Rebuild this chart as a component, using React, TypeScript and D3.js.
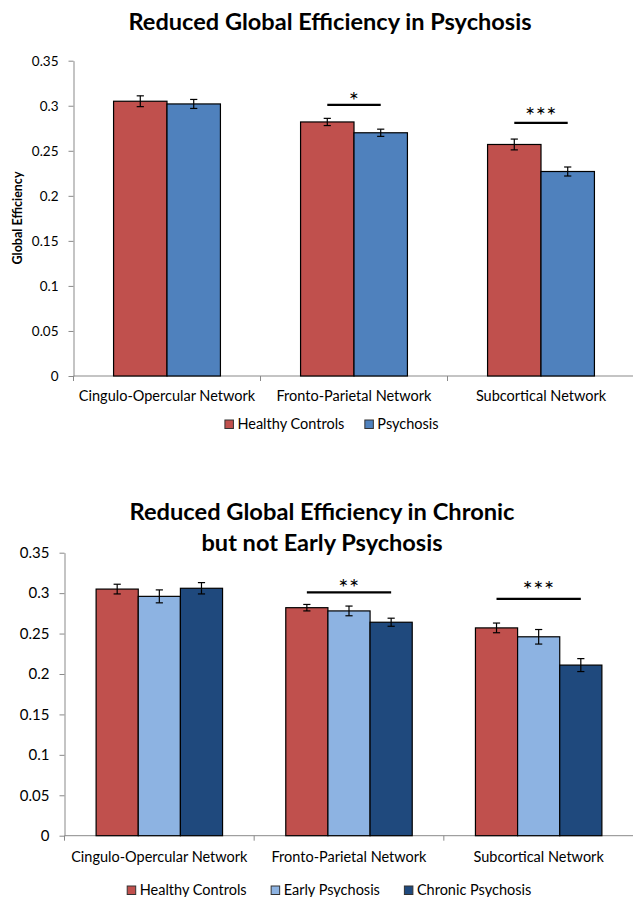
import { useRef, useEffect } from "react";
import * as d3 from "d3";

// categories and tick labels
const categories = ["Cingulo-Opercular Network", "Fronto-Parietal Network", "Subcortical Network"];
const yTicks = [0, 0.05, 0.1, 0.15, 0.2, 0.25, 0.3, 0.35];
const yTickLabels = ["0", "0.05", "0.1", "0.15", "0.2", "0.25", "0.3", "0.35"];

// chart 1: HC vs psychosis
const hcTop = [0.305, 0.282, 0.257];
const hcTopErr = [0.006, 0.004, 0.006];
const psyTop = [0.302, 0.27, 0.227];
const psyTopErr = [0.005, 0.004, 0.005];
const starsTop = ["", "*", "***"];
const sigLineTop = [0, 0.301, 0.281];
const starLevelTop = [0, 0.3103, 0.2937];

// chart 2: HC vs early vs chronic
const hcBot = [0.305, 0.282, 0.257];
const hcBotErr = [0.006, 0.004, 0.006];
const earlyBot = [0.296, 0.278, 0.246];
const earlyBotErr = [0.008, 0.006, 0.009];
const chronicBot = [0.306, 0.264, 0.211];
const chronicBotErr = [0.007, 0.005, 0.008];
const starsBot = ["", "**", "***"];
const sigLineBot = [0, 0.301, 0.293];
const starLevelBot = [0, 0.313, 0.31];

const FONT = "Lato, 'Open Sans', sans-serif";
const AXIS = "#898989";

function drawChart(svg, cfg) {
  const g = svg.append("g");
  const x = d3.scaleBand().domain(categories).range([cfg.x0, cfg.x1]);
  const bw = x.bandwidth();
  const n = cfg.series.length;
  const gap = (bw * 1.5) / (n + 1.5);
  const xs = d3
    .scaleBand()
    .domain(cfg.series.map((s) => s.name))
    .range([gap / 2, bw - gap / 2]);
  const y = d3.scaleLinear().domain([0, 0.35]).range([cfg.y0, cfg.y1]);

  // title
  cfg.title.forEach((t, i) => {
    g.append("text")
      .attr("x", cfg.titleX)
      .attr("y", cfg.titleY[i])
      .attr("text-anchor", "middle")
      .attr("font-family", FONT)
      .attr("font-weight", "bold")
      .attr("font-size", 22)
      .attr("textLength", cfg.titleLen[i])
      .attr("lengthAdjust", "spacingAndGlyphs")
      .text(t);
  });

  // y axis
  const yAxis = d3
    .axisLeft(y)
    .tickValues(yTicks)
    .tickFormat((d, i) => yTickLabels[i])
    .tickSize(5)
    .tickSizeOuter(0)
    .tickPadding(cfg.tickPad);
  const ya = g.append("g").attr("transform", `translate(${cfg.x0},0)`).call(yAxis);
  ya.select(".domain").attr("stroke", AXIS);
  ya.selectAll(".tick line").attr("stroke", AXIS);
  ya.selectAll(".tick text")
    .attr("font-family", FONT)
    .attr("font-size", cfg.tickFont)
    .attr("fill", "#000");

  // x axis line + boundary ticks
  g.append("line")
    .attr("x1", cfg.x0)
    .attr("x2", cfg.x1)
    .attr("y1", cfg.y0)
    .attr("y2", cfg.y0)
    .attr("stroke", AXIS);
  const bounds = categories.map((c) => x(c)).concat([cfg.x1]);
  g.selectAll(".xt")
    .data(bounds)
    .join("line")
    .attr("x1", (d) => d)
    .attr("x2", (d) => d)
    .attr("y1", cfg.y0)
    .attr("y2", cfg.y0 + 5)
    .attr("stroke", AXIS);
  g.selectAll(".xl")
    .data(categories)
    .join("text")
    .attr("x", (d) => x(d) + bw / 2)
    .attr("y", cfg.catY)
    .attr("text-anchor", "middle")
    .attr("font-family", FONT)
    .attr("font-size", cfg.catFont)
    .text((d) => d);

  // bars
  cfg.series.forEach((s) => {
    const rows = categories.map((c, i) => ({ c, v: s.values[i], e: s.err[i] }));
    g.append("g")
      .selectAll("rect")
      .data(rows)
      .join("rect")
      .attr("x", (d) => x(d.c) + xs(s.name))
      .attr("y", (d) => y(d.v))
      .attr("width", xs.bandwidth())
      .attr("height", (d) => cfg.y0 - y(d.v))
      .attr("fill", s.color)
      .attr("stroke", "#000")
      .attr("stroke-width", 1.2);

    const eb = g.append("g").attr("stroke", "#000").attr("stroke-width", 1.2);
    rows.forEach((d) => {
      const cx = x(d.c) + xs(s.name) + xs.bandwidth() / 2;
      eb.append("line").attr("x1", cx).attr("x2", cx).attr("y1", y(d.v + d.e)).attr("y2", y(d.v - d.e));
      [d.v + d.e, d.v - d.e].forEach((v) => {
        eb.append("line").attr("x1", cx - 3.6).attr("x2", cx + 3.6).attr("y1", y(v)).attr("y2", y(v));
      });
    });
  });

  // significance markers
  categories.forEach((c, i) => {
    if (!cfg.stars[i]) return;
    const cx = x(c) + bw / 2;
    const half = (xs.bandwidth() * cfg.sigSpan) / 2;
    g.append("line")
      .attr("x1", cx - half)
      .attr("x2", cx + half)
      .attr("y1", y(cfg.sigLine[i]))
      .attr("y2", y(cfg.sigLine[i]))
      .attr("stroke", "#000")
      .attr("stroke-width", 2.2);
    g.append("text")
      .attr("x", cx)
      .attr("y", y(cfg.starLevel[i]) + 13)
      .attr("text-anchor", "middle")
      .attr("font-family", FONT)
      .attr("font-size", 24)
      .attr("letter-spacing", 0.5)
      .text(cfg.stars[i]);
  });

  // legend
  const lg = g.append("g");
  let cur = 0;
  cfg.series.forEach((s) => {
    const it = lg.append("g").attr("transform", `translate(${cur},0)`);
    it.append("rect")
      .attr("x", 0.5)
      .attr("y", -9)
      .attr("width", 8.5)
      .attr("height", 8.5)
      .attr("fill", s.color)
      .attr("stroke", "#333")
      .attr("stroke-width", 1);
    const t = it
      .append("text")
      .attr("x", 13)
      .attr("y", 0)
      .attr("font-family", FONT)
      .attr("font-size", cfg.catFont)
      .text(s.name);
    cur += 13 + t.node().getComputedTextLength() + cfg.legendGap;
  });
  const lw = cur - cfg.legendGap;
  lg.attr("transform", `translate(${cfg.legendX - lw / 2},${cfg.legendY})`);

  // y label
  if (cfg.yLabel) {
    g.append("text")
      .attr("transform", `translate(22,218) rotate(-90)`)
      .attr("text-anchor", "middle")
      .attr("font-family", FONT)
      .attr("font-weight", "bold")
      .attr("font-size", 12.5)
      .text(cfg.yLabel);
  }
}

export default function App() {
  const svgRef = useRef(null);

  useEffect(() => {
    const svg = d3.select(svgRef.current);
    svg.selectAll("*").remove();

    drawChart(svg, {
      x0: 73.5,
      x1: 634.5,
      y0: 376,
      y1: 60.7,
      title: ["Reduced Global Efficiency in Psychosis"],
      titleX: 330,
      titleY: [29.5],
      titleLen: [403],
      tickFont: 13.5,
      tickPad: 10,
      catFont: 14.5,
      catY: 401,
      legendX: 331.5,
      legendY: 429,
      legendGap: 20,
      yLabel: "Global Efficiency",
      series: [
        { name: "Healthy Controls", values: hcTop, err: hcTopErr, color: "#C0504D" },
        { name: "Psychosis", values: psyTop, err: psyTopErr, color: "#4F81BD" },
      ],
      stars: starsTop,
      sigLine: sigLineTop,
      starLevel: starLevelTop,
      sigSpan: 1,
    });

    drawChart(svg, {
      x0: 64.5,
      x1: 633.5,
      y0: 835.7,
      y1: 552.7,
      title: ["Reduced Global Efficiency in Chronic", "but not Early Psychosis"],
      titleX: 322,
      titleY: [519.5, 550.5],
      titleLen: [385, 241],
      tickFont: 15,
      tickPad: 10,
      catFont: 14.5,
      catY: 862,
      legendX: 329,
      legendY: 895,
      legendGap: 24,
      yLabel: null,
      series: [
        { name: "Healthy Controls", values: hcBot, err: hcBotErr, color: "#C0504D" },
        { name: "Early Psychosis", values: earlyBot, err: earlyBotErr, color: "#8DB3E2" },
        { name: "Chronic Psychosis", values: chronicBot, err: chronicBotErr, color: "#1F497D" },
      ],
      stars: starsBot,
      sigLine: sigLineBot,
      starLevel: starLevelBot,
      sigSpan: 2,
    });
  }, []);

  return (
    <svg
      ref={svgRef}
      width={633}
      height={897}
      style={{ position: "absolute", left: 0, top: 0, background: "#fff" }}
    />
  );
}
